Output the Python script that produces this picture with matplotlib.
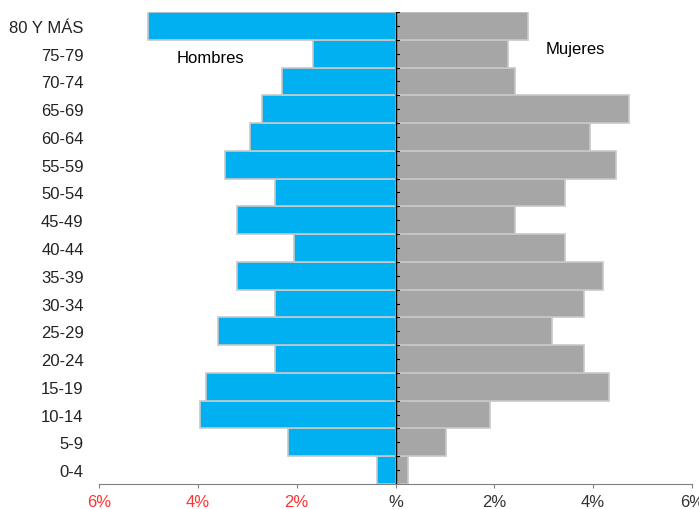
import numpy as np
import matplotlib
matplotlib.use("Agg")
import matplotlib.pyplot as plt

plt.rcParams['font.family'] = ['Liberation Sans', 'DejaVu Sans']

grupos = ["0-4", "5-9", "10-14", "15-19", "20-24", "25-29", "30-34", "35-39",
          "40-44", "45-49", "50-54", "55-59", "60-64", "65-69", "70-74", "75-79",
          "80 Y MÁS"]
hombres = [0.38, 2.18, 3.96, 3.83, 2.44, 3.59, 2.44, 3.21,
           2.05, 3.21, 2.44, 3.45, 2.95, 2.70, 2.30, 1.67, 5.0]
mujeres = [0.25, 1.03, 1.91, 4.32, 3.82, 3.17, 3.82, 4.20,
           3.43, 2.42, 3.43, 4.46, 3.94, 4.73, 2.42, 2.28, 2.68]
xticks = [-6, -4, -2, 0, 2, 4, 6]
xlabels = ["6%", "4%", "2%", "%", "2%", "4%", "6%"]

fig = plt.figure(figsize=(6.99, 5.10), dpi=100)
ax = fig.add_axes([99/699, 1 - 485/510, (692 - 99)/699, (485 - 13)/510])

y = np.arange(len(grupos))
ax.barh(y, -np.array(hombres), height=1.0, color="#00B0F0",
        edgecolor="#C8C8C8", linewidth=1.2)
ax.barh(y, mujeres, height=1.0, color="#A6A6A6",
        edgecolor="#C8C8C8", linewidth=1.2)

ax.set_xlim(-6, 6)
ax.set_ylim(-0.5, len(grupos) - 0.5)

# eje central con marcas pequeñas
ax.axvline(0, color="black", linewidth=1.0, zorder=3)
for t in np.arange(-0.5, len(grupos), 0.5):
    ax.plot([0, 0.07], [t, t], color="black", linewidth=0.8, zorder=3)

for s in ["top", "right", "left"]:
    ax.spines[s].set_visible(False)
ax.spines["bottom"].set_color("#808080")

ax.set_yticks(y)
ax.set_yticklabels(grupos, fontsize=12, color="#222222")
ax.tick_params(axis="y", length=0, pad=11)

ax.set_xticks(xticks)
ax.set_xticklabels(xlabels, fontsize=12)
ax.tick_params(axis="x", color="#808080", length=3, pad=4)
for lbl in ax.get_xticklabels()[:3]:
    lbl.set_color("#FF3333")
for lbl in ax.get_xticklabels()[3:]:
    lbl.set_color("#333333")

ax.text(-3.75, 14.86, "Hombres", fontsize=12, ha="center", va="center")
ax.text(3.63, 15.2, "Mujeres", fontsize=12, ha="center", va="center")

fig.savefig("out.png", dpi=100)
